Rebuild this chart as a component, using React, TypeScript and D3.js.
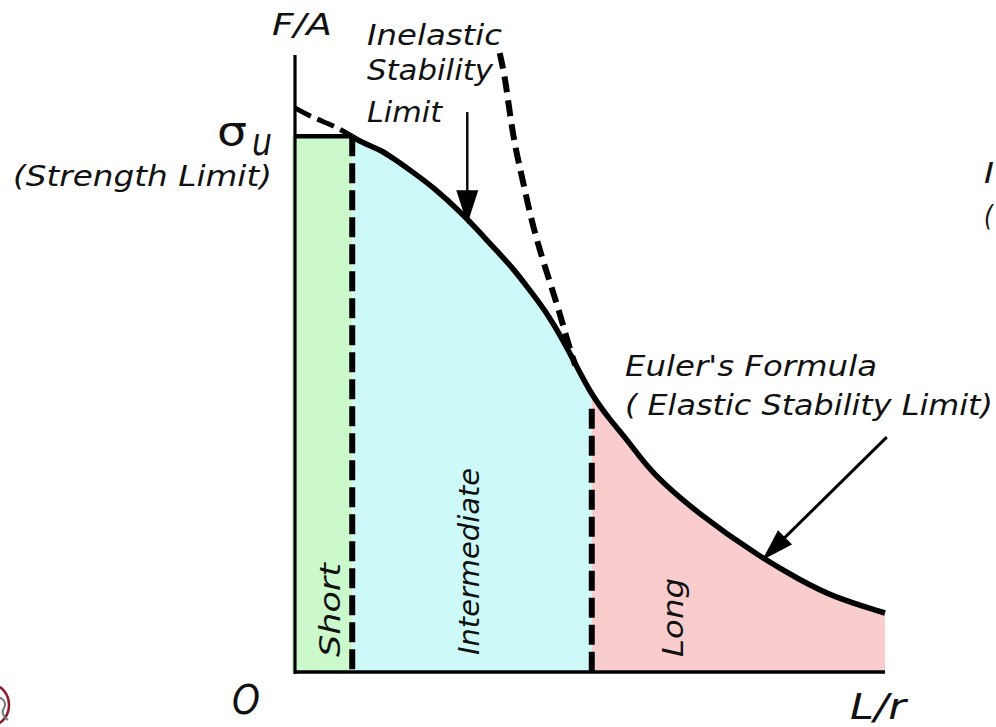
import React from "react";
import * as d3 from "d3";

// ---------- data (L/r on x, F/A on y, both in arbitrary read units) ----------
const xMaxLr = 100;
const strengthLimitFA = 90.8;
const shortLimitLr = 9.7;
const longLimitLr = 50.3;
const longBoundaryTopFA = 44.6;

// main solid curve (Johnson parabola -> Euler)
const mainCurveLr = [9.7, 10.5, 12.7, 14.4, 16.6, 20.0, 23.4, 28.0, 30.8, 33.6, 36.9, 39.8, 43.2, 46.6, 50.0, 53.4, 56.8, 60.2, 68.6, 78.8, 85.6, 91.2, 100];
const mainCurveFA = [90.8, 90.2, 89.2, 88.5, 87.1, 84.7, 82.2, 78.0, 75.1, 72.0, 68.5, 64.7, 60.2, 54.1, 47.3, 42.7, 38.8, 33.9, 26.6, 19.5, 15.6, 12.7, 10.0];

// dashed extension of Euler's curve toward small L/r
const eulerDashLr = [34.7, 35.6, 36.4, 37.3, 38.6, 40.3, 42.7, 44.9, 46.1, 47.5];
const eulerDashFA = [104.9, 100.8, 94.7, 89.0, 83.4, 75.4, 67.6, 60.8, 56.3, 52.0];

// dashed extension of the inelastic curve to L/r = 0
const johnsonDashLr = [0, 3.1, 6.4, 9.7];
const johnsonDashFA = [95.6, 93.9, 92.7, 90.8];

// annotation arrows [fromLr, fromFA, toLr, toFA]
const inelasticArrow = [29.2, 94.9, 29.2, 75.9];
const eulerArrow = [100.3, 39.8, 79.2, 19.0];

// text
const regionLabels = ["Short", "Intermediate", "Long"];
const inelasticLines = ["Inelastic", "Stability", "Limit"];
const eulerLines = ["Euler's Formula", "( Elastic Stability Limit)"];
const strengthLabel = "(Strength Limit)";
const yAxisLabel = "F/A";
const xAxisLabel = "L/r";
const originLabel = "O";

// ---------- layout ----------
const W = 996;
const H = 727;
const x = d3.scaleLinear().domain([0, xMaxLr]).range([295, 885]);
const y = d3.scaleLinear().domain([0, 100]).range([672, 82]);

const FONT = "'DejaVu Sans', Verdana, sans-serif";
const TXT = "#111";
const GREEN = "#ccf9cc";
const CYAN = "#cdf9f9";
const PINK = "#f9cdcd";

const zip = (a: number[], b: number[]) => a.map((v, i) => [v, b[i]] as [number, number]);

function arrowHead(a: number[], len: number, half: number) {
  const x0 = x(a[0]), y0 = y(a[1]), x1 = x(a[2]), y1 = y(a[3]);
  const dx = x1 - x0, dy = y1 - y0;
  const l = Math.hypot(dx, dy);
  const ux = dx / l, uy = dy / l;
  const bx = x1 - ux * len, by = y1 - uy * len;
  const nx = -uy, ny = ux;
  return `M${x1},${y1}L${bx + nx * half},${by + ny * half}L${bx - nx * half},${by - ny * half}Z`;
}

export default function App() {
  const main = zip(mainCurveLr, mainCurveFA);
  const lineGen = d3.line<[number, number]>().x((d) => x(d[0])).y((d) => y(d[1])).curve(d3.curveBasis);
  const areaGen = d3
    .area<[number, number]>()
    .x((d) => x(d[0]))
    .y0(y(0))
    .y1((d) => y(d[1]))
    .curve(d3.curveBasis);
  const eulerGen = d3.line<[number, number]>().x((d) => x(d[0])).y((d) => y(d[1])).curve(d3.curveBasis);

  const t = (
    s: string,
    px: number,
    py: number,
    size: number,
    len: number,
    extra: any = {}
  ) => (
    <text
      x={px}
      y={py}
      fontFamily={FONT}
      fontStyle="italic"
      fontSize={size}
      fill={TXT}
      textLength={len}
      lengthAdjust="spacingAndGlyphs"
      {...extra}
    >
      {s}
    </text>
  );

  return (
    <svg
      width={W}
      height={H}
      viewBox={`0 0 ${W} ${H}`}
      style={{ position: "absolute", left: 0, top: 0, display: "block", background: "#fff" }}
    >
      <defs>
        <clipPath id="cyanClip">
          <rect x={x(shortLimitLr)} y={0} width={x(longLimitLr) - x(shortLimitLr)} height={H} />
        </clipPath>
        <clipPath id="pinkClip">
          <rect x={x(longLimitLr)} y={0} width={x(xMaxLr) - x(longLimitLr)} height={H} />
        </clipPath>
      </defs>
      <rect width={W} height={H} fill="#fff" />

      {/* region fills */}
      <rect
        x={x(0) - 3}
        y={y(strengthLimitFA)}
        width={x(shortLimitLr) - x(0) + 3}
        height={y(0) - y(strengthLimitFA)}
        fill={GREEN}
      />
      <path d={areaGen(main) || ""} fill={CYAN} clipPath="url(#cyanClip)" />
      <path d={areaGen(main) || ""} fill={PINK} clipPath="url(#pinkClip)" />

      {/* region boundaries */}
      <line
        x1={x(shortLimitLr)}
        x2={x(shortLimitLr)}
        y1={y(strengthLimitFA)}
        y2={y(0)}
        stroke="#000"
        strokeWidth={6}
        strokeDasharray="20 7"
      />
      <line
        x1={x(longLimitLr)}
        x2={x(longLimitLr)}
        y1={y(longBoundaryTopFA)}
        y2={y(0)}
        stroke="#000"
        strokeWidth={6}
        strokeDasharray="20 7"
      />

      {/* axes */}
      <line x1={x(0)} x2={x(0)} y1={55} y2={y(0) + 2} stroke="#000" strokeWidth={3.2} />
      <line x1={x(0)} x2={x(xMaxLr)} y1={y(0)} y2={y(0)} stroke="#000" strokeWidth={3.6} />

      {/* strength limit + main curve */}
      <line
        x1={x(0)}
        x2={x(shortLimitLr)}
        y1={y(strengthLimitFA)}
        y2={y(strengthLimitFA)}
        stroke="#000"
        strokeWidth={4.5}
      />
      <path d={lineGen(main) || ""} fill="none" stroke="#000" strokeWidth={5.5} />

      {/* dashed extensions */}
      <path
        d={eulerGen(zip(eulerDashLr, eulerDashFA)) || ""}
        fill="none"
        stroke="#000"
        strokeWidth={6}
        strokeDasharray="16 8"
      />
      <path
        d={eulerGen(zip(johnsonDashLr, johnsonDashFA)) || ""}
        fill="none"
        stroke="#000"
        strokeWidth={5}
        strokeDasharray="18 7"
      />

      {/* arrows */}
      <line
        x1={x(inelasticArrow[0])}
        y1={y(inelasticArrow[1])}
        x2={x(inelasticArrow[2])}
        y2={y(inelasticArrow[3]) - 20}
        stroke="#000"
        strokeWidth={2.4}
      />
      <path d={arrowHead(inelasticArrow, 34, 11)} fill="#000" />
      <line
        x1={x(eulerArrow[0])}
        y1={y(eulerArrow[1])}
        x2={x(eulerArrow[2]) + 12}
        y2={y(eulerArrow[3]) - 12}
        stroke="#000"
        strokeWidth={3}
      />
      <path d={arrowHead(eulerArrow, 32, 10)} fill="#000" />

      {/* text */}
      {t(yAxisLabel, 272, 35, 31, 60)}
      {inelasticLines.map((s, i) =>
        t(s, 367, [45, 80, 122][i], 28, [135, 126, 75][i], { key: s })
      )}
      <text x={217} y={145} fontFamily={FONT} fontSize={40} fill={TXT} textLength={30} lengthAdjust="spacingAndGlyphs">
        σ
      </text>
      {t("u", 252, 155, 38, 20)}
      {t(strengthLabel, 13, 186, 28, 259)}
      {eulerLines.map((s, i) => t(s, 625, [376, 415][i], 28, [252, 368][i], { key: s }))}

      {regionLabels.map((s, i) => {
        const bx = [340, 479, 683][i];
        const by = [657, 655, 657][i];
        const len = [94, 187, 79][i];
        return t(s, bx, by, 28, len, { key: s, transform: `rotate(-90 ${bx} ${by})` });
      })}

      {t(originLabel, 232, 714, 40, 28)}
      {t(xAxisLabel, 850, 719, 36, 56)}

      {/* partly visible text at right edge */}
      {t("I", 984, 183, 28, 10)}
      {t("(", 984, 226, 28, 9)}

      {/* cut-off logo at bottom-left */}
      <ellipse cx={-8} cy={705} rx={17} ry={20} fill="none" stroke="#8b1a2b" strokeWidth={2.5} />
      <path d="M-4,696 Q8,700 4,708 Q0,714 8,720" fill="none" stroke="#777" strokeWidth={2} />
    </svg>
  );
}
